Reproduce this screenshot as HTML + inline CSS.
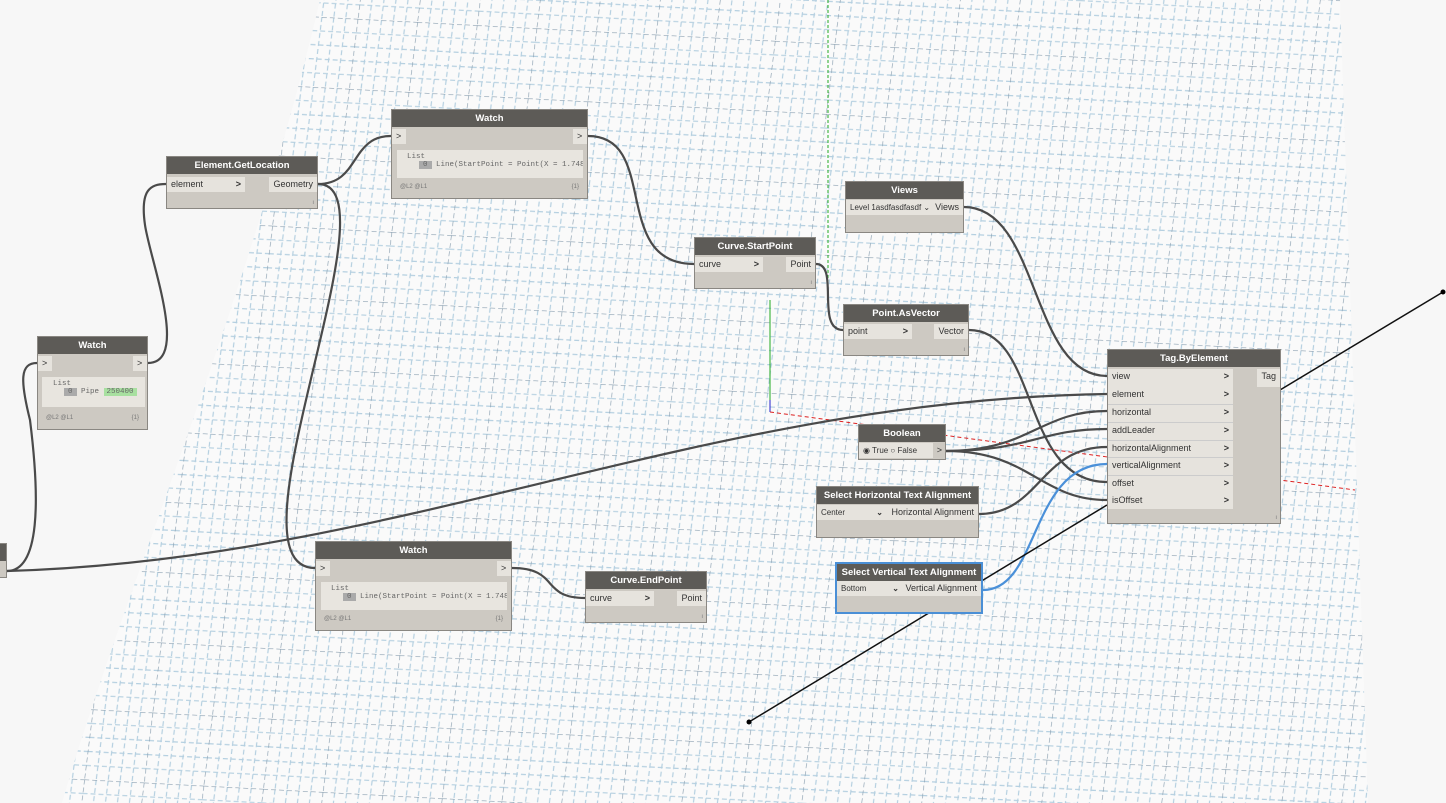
<!DOCTYPE html>
<html><head><meta charset="utf-8"><style>
body{margin:0;width:1446px;height:803px;overflow:hidden;background:#f7f7f7;font-family:"Liberation Sans",sans-serif;position:relative}
.n{position:absolute;background:#cdc9c2;border:1px solid #8a8782;box-sizing:border-box;font-size:9px;color:#333}
.h{background:#5d5b57;color:#fff;font-weight:bold;text-align:center;height:17px;line-height:17px;font-size:9.5px;white-space:nowrap}
.r{position:absolute;background:#e6e3dd;height:15px;line-height:15px;padding-left:4px;box-sizing:border-box;white-space:nowrap}
.o{position:absolute;background:#e6e3dd;height:15px;line-height:15px;padding:0 4px;box-sizing:border-box;white-space:nowrap}
.a{position:absolute;right:4px;top:0;font-weight:bold}
.wb{position:absolute;background:#e8e5df;font-family:"Liberation Mono",monospace;font-size:7.5px;color:#666;white-space:nowrap;overflow:hidden}
.ft{position:absolute;font-size:6px;color:#777}
svg{position:absolute;left:0;top:0}
</style></head><body>
<svg width="1446" height="803">
<defs>
<pattern id="g" width="60" height="70" patternUnits="userSpaceOnUse" patternTransform="skewX(-7) skewY(3)">
<path d="M0 14H60M0 28H60M0 42H60M0 56H60M12 0V70M24 0V70M36 0V70M48 0V70" stroke="#b4cfe0" stroke-width="1.2" stroke-dasharray="5 3" fill="none"/>
<path d="M0 0H60M0 0V70" stroke="#8a9fb0" stroke-width="1.3" stroke-dasharray="5 3" fill="none"/>
</pattern>
</defs>
<path d="M320 0 C250 300 120 600 62 803 L1368 803 L1340 0 Z" fill="#fafafa"/>
<path d="M320 0 C250 300 120 600 62 803 L1368 803 L1340 0 Z" fill="url(#g)"/>
<line x1="828" y1="0" x2="828" y2="300" stroke="#2a2" stroke-dasharray="3 2"/>
<line x1="770" y1="300" x2="770" y2="410" stroke="#2a2"/>
<line x1="770" y1="400" x2="770" y2="412" stroke="#22c"/>
<line x1="770" y1="412" x2="1355" y2="490" stroke="#d22" stroke-dasharray="4 3"/>
<g fill="none" stroke="#4a4a4a" stroke-width="2.2">
<path d="M318 184 C360 184 350 136 391 136"/>
<path d="M318 184 C400 184 220 568 315 568"/>
<path d="M148 363 C190 363 150 260 145 225 C140 190 150 184 166 184"/>
<path d="M7 571 C40 571 40 500 30 420 C20 380 20 363 37 363"/>
<path d="M7 571 C400 560 700 400 1107 394"/>
<path d="M588 136 C660 136 610 264 694 264"/>
<path d="M512 568 C560 568 540 598 585 598"/>
<path d="M816 264 C840 264 815 330 843 330"/>
<path d="M964 207 C1040 207 1030 376 1107 376"/>
<path d="M969 330 C1040 330 1020 482 1107 482"/>
<path d="M946 451 C1030 451 1040 411 1107 411"/>
<path d="M946 451 C1030 451 1040 429 1107 429"/>
<path d="M946 451 C1030 451 1040 500 1107 500"/>
<path d="M979 514 C1040 514 1040 447 1107 447"/>
</g>
<path d="M983 590 C1040 590 1030 464 1107 464" fill="none" stroke="#4a90d9" stroke-width="2.2"/>
<line x1="1280" y1="390" x2="1443" y2="292" stroke="#111" stroke-width="1.5"/>
<circle cx="1443" cy="292" r="2.5"/>
<line x1="1107" y1="505" x2="749" y2="722" stroke="#111" stroke-width="1.5"/>
<circle cx="749" cy="722" r="2.5"/>
</svg>

<div class="n" style="left:-10px;top:543px;width:17px;height:35px"><div class="h"></div></div>

<div class="n" style="left:166px;top:156px;width:152px;height:53px"><div class="h">Element.GetLocation</div>
<div class="r" style="left:0;top:20px;width:78px">element<span class="a">&gt;</span></div>
<div class="o" style="right:0;top:20px">Geometry</div><div class="ft" style="right:3px;bottom:2px">ı</div></div>

<div class="n" style="left:391px;top:109px;width:197px;height:90px"><div class="h">Watch</div>
<div class="r" style="left:0;top:19px;width:14px">&gt;</div><div class="r" style="right:0;top:19px;width:14px">&gt;</div>
<div class="wb" style="left:5px;top:40px;width:186px;height:28px"><div style="padding:3px 0 0 10px">List</div><div style="padding-left:22px"><span style="background:#aaa;padding:0 4px">0</span> Line(StartPoint = Point(X = 1.748</div></div>
<div class="ft" style="left:8px;bottom:8px">@L2 @L1</div><div class="ft" style="right:8px;bottom:8px">{1}</div></div>

<div class="n" style="left:37px;top:336px;width:111px;height:94px"><div class="h">Watch</div>
<div class="r" style="left:0;top:19px;width:14px">&gt;</div><div class="r" style="right:0;top:19px;width:14px">&gt;</div>
<div class="wb" style="left:4px;top:40px;width:103px;height:30px"><div style="padding:3px 0 0 11px">List</div><div style="padding-left:22px"><span style="background:#aaa;padding:0 4px">0</span> Pipe <span style="background:#a8e0a0;padding:0 3px">250400</span></div></div>
<div class="ft" style="left:8px;bottom:8px">@L2 @L1</div><div class="ft" style="right:8px;bottom:8px">{1}</div></div>

<div class="n" style="left:315px;top:541px;width:197px;height:90px"><div class="h">Watch</div>
<div class="r" style="left:0;top:19px;width:14px">&gt;</div><div class="r" style="right:0;top:19px;width:14px">&gt;</div>
<div class="wb" style="left:5px;top:40px;width:186px;height:28px"><div style="padding:3px 0 0 10px">List</div><div style="padding-left:22px"><span style="background:#aaa;padding:0 4px">0</span> Line(StartPoint = Point(X = 1.748</div></div>
<div class="ft" style="left:8px;bottom:8px">@L2 @L1</div><div class="ft" style="right:8px;bottom:8px">{1}</div></div>

<div class="n" style="left:694px;top:237px;width:122px;height:52px"><div class="h">Curve.StartPoint</div>
<div class="r" style="left:0;top:19px;width:68px">curve<span class="a">&gt;</span></div>
<div class="o" style="right:0;top:19px">Point</div><div class="ft" style="right:3px;bottom:2px">ı</div></div>

<div class="n" style="left:585px;top:571px;width:122px;height:52px"><div class="h">Curve.EndPoint</div>
<div class="r" style="left:0;top:19px;width:68px">curve<span class="a">&gt;</span></div>
<div class="o" style="right:0;top:19px">Point</div><div class="ft" style="right:3px;bottom:2px">ı</div></div>

<div class="n" style="left:845px;top:181px;width:119px;height:52px"><div class="h">Views</div>
<div class="r" style="left:0;top:18px;width:88px;font-size:8px">Level 1asdfasdfasdf ⌄</div>
<div class="o" style="right:0;top:18px">Views</div></div>

<div class="n" style="left:843px;top:304px;width:126px;height:52px"><div class="h">Point.AsVector</div>
<div class="r" style="left:0;top:19px;width:68px">point<span class="a">&gt;</span></div>
<div class="o" style="right:0;top:19px">Vector</div><div class="ft" style="right:3px;bottom:2px">ı</div></div>

<div class="n" style="left:858px;top:424px;width:88px;height:36px"><div class="h">Boolean</div>
<div class="r" style="left:0;top:18px;width:74px;font-size:8px">◉ True ○ False</div><div style="position:absolute;right:3px;top:20px">&gt;</div></div>

<div class="n" style="left:816px;top:486px;width:163px;height:52px"><div class="h">Select Horizontal Text Alignment</div>
<div class="r" style="left:0;top:18px;width:70px;font-size:8px">Center<span class="a">⌄</span></div>
<div class="o" style="right:0;top:18px">Horizontal Alignment</div></div>

<div class="n" style="left:835px;top:562px;width:148px;height:52px;border:2px solid #4a8fd6"><div class="h">Select Vertical Text Alignment</div>
<div class="r" style="left:0;top:17px;width:66px;font-size:8px">Bottom<span class="a">⌄</span></div>
<div class="o" style="right:0;top:17px">Vertical Alignment</div></div>

<div class="n" style="left:1107px;top:349px;width:174px;height:175px"><div class="h">Tag.ByElement</div>
<div style="position:absolute;left:0;top:19px;width:125px;height:140px;background:#e6e3dd"></div>
<div class="r" style="left:0;top:19px;width:125px">view<span class="a">&gt;</span></div>
<div class="r" style="left:0;top:37px;width:125px">element<span class="a">&gt;</span></div>
<div class="r" style="left:0;top:54px;width:125px;border-top:1px solid #ccc">horizontal<span class="a">&gt;</span></div>
<div class="r" style="left:0;top:72px;width:125px;border-top:1px solid #ccc">addLeader<span class="a">&gt;</span></div>
<div class="r" style="left:0;top:90px;width:125px;border-top:1px solid #ccc">horizontalAlignment<span class="a">&gt;</span></div>
<div class="r" style="left:0;top:107px;width:125px;border-top:1px solid #ccc">verticalAlignment<span class="a">&gt;</span></div>
<div class="r" style="left:0;top:125px;width:125px;border-top:1px solid #ccc">offset<span class="a">&gt;</span></div>
<div class="r" style="left:0;top:143px;width:125px">isOffset<span class="a">&gt;</span></div>
<div class="o" style="right:0;top:19px;height:18px">Tag</div><div class="ft" style="right:3px;bottom:2px">ı</div></div>
</body></html>
